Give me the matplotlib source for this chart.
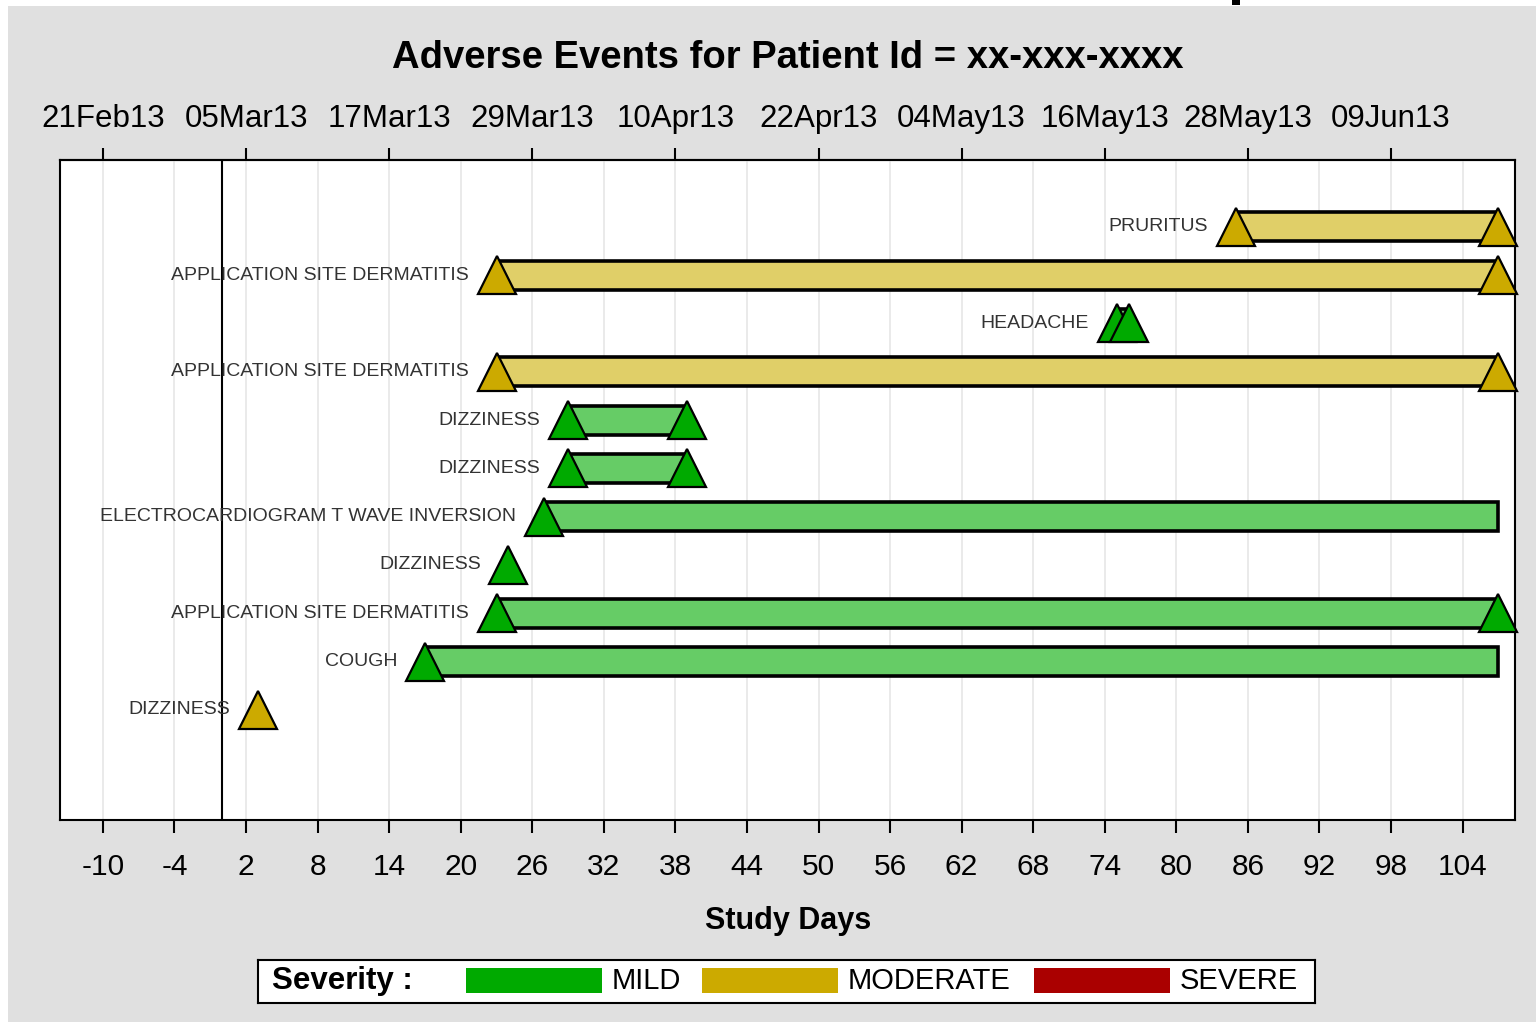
import numpy as np
import matplotlib
matplotlib.use("Agg")
import matplotlib.pyplot as plt
from matplotlib.patches import Rectangle

W, H = 1536, 1022

# adverse events, top row first
ae_terms = ["PRURITUS", "APPLICATION SITE DERMATITIS", "HEADACHE",
            "APPLICATION SITE DERMATITIS", "DIZZINESS", "DIZZINESS",
            "ELECTROCARDIOGRAM T WAVE INVERSION", "DIZZINESS",
            "APPLICATION SITE DERMATITIS", "COUGH", "DIZZINESS"]
ae_start = [85, 23, 75, 23, 29, 29, 27, 24, 23, 17, 3]
# nan = still ongoing at last study day
ae_end = [107, 107, 76, 107, 39, 39, np.nan, 24, 107, np.nan, 3]
ae_sev = ["MODERATE", "MODERATE", "MILD", "MODERATE", "MILD", "MILD",
          "MILD", "MILD", "MILD", "MILD", "MODERATE"]
last_day = 107

bottom_ticks = list(range(-10, 105, 6))
top_ticks = [-10, 2, 14, 26, 38, 50, 62, 74, 86, 98]
top_labels = ["21Feb13", "05Mar13", "17Mar13", "29Mar13", "10Apr13",
              "22Apr13", "04May13", "16May13", "28May13", "09Jun13"]

severities = ["MILD", "MODERATE", "SEVERE"]
sev_color = {"MILD": "#00aa00", "MODERATE": "#ccaa00", "SEVERE": "#aa0000"}
bar_color = {"MILD": "#66cc66", "MODERATE": "#e0cf68", "SEVERE": "#d46666"}

plt.rcParams['font.family'] = ['Liberation Sans', 'DejaVu Sans']
plt.rcParams['axes.unicode_minus'] = False

fig = plt.figure(figsize=(W / 100, H / 100), dpi=100)
fig.patch.set_facecolor("white")
fig.patches.append(Rectangle((8 / W, 0), 1 - 8 / W, 1 - 6 / H, transform=fig.transFigure,
                             facecolor="#e0e0e0", edgecolor="none", zorder=-10))
fig.patches.append(Rectangle((1232 / W, 1 - 5 / H), 8 / W, 5 / H, transform=fig.transFigure,
                             facecolor="black", edgecolor="none"))

ax = fig.add_axes([60 / W, 1 - 820 / H, (1515 - 60) / W, (820 - 160) / H])
ax.set_facecolor("white")

rows = np.arange(len(ae_terms))
for i in rows:
    s = ae_start[i]
    e = ae_end[i]
    sev = ae_sev[i]
    bar_end = last_day if np.isnan(e) else e
    if bar_end > s:
        ax.barh(i, bar_end - s, left=s, height=0.6, color=bar_color[sev],
                edgecolor="black", linewidth=2.6, zorder=3)
    ax.plot(s, i, marker="^", ms=27, mfc=sev_color[sev], mec="black", mew=1.6,
            ls="none", zorder=4, clip_on=False)
    if not np.isnan(e) and e != s:
        ax.plot(e, i, marker="^", ms=27, mfc=sev_color[sev], mec="black", mew=1.6,
                ls="none", zorder=4, clip_on=False)
    ax.annotate(ae_terms[i], (s, i), xytext=(-20, 0), textcoords="offset points",
                ha="right", va="center", fontsize=14, color="#333333", zorder=5)

ax.axvline(0, color="black", lw=1.5, zorder=2)

ax.set_xlim(-13.6, 108.4)
ax.set_ylim(12.28, -1.385)
ax.set_yticks([])
ax.set_xticks(bottom_ticks)
ax.grid(axis="x", color="#e6e6e6", lw=1.2, zorder=0)
ax.tick_params(axis="x", length=9, width=1.5, pad=15, labelsize=21.5)
for sp in ax.spines.values():
    sp.set_linewidth(1.5)
    sp.set_color("black")

top = ax.secondary_xaxis("top")
top.set_xticks(top_ticks, labels=top_labels)
top.tick_params(length=9, width=1.5, pad=10, labelsize=22.5)
top.spines["top"].set_linewidth(1.5)

fig.text(788 / W, 1 - 58 / H, "Adverse Events for Patient Id = xx-xxx-xxxx",
         ha="center", va="center", fontsize=27.5, fontweight="bold")
fig.text(788 / W, 1 - 921 / H, "Study Days", ha="center", va="center",
         fontsize=22, fontweight="bold")

# legend box
lax = fig.add_axes([258 / W, 1 - 1003 / H, (1315 - 258) / W, 43 / H])
lax.set_xlim(258, 1315)
lax.set_ylim(1003, 960)
lax.set_xticks([])
lax.set_yticks([])
for sp in lax.spines.values():
    sp.set_linewidth(1.5)
lax.text(272, 981, "Severity :", ha="left", va="center", fontsize=22.5, fontweight="bold")
patch_x = [466, 702, 1034]
for px, sev in zip(patch_x, severities):
    lax.add_patch(Rectangle((px, 968), 136, 25, facecolor=sev_color[sev], edgecolor="none"))
    lax.text(px + 146, 981, sev, ha="left", va="center", fontsize=21)

fig.savefig("out.png", dpi=100)
